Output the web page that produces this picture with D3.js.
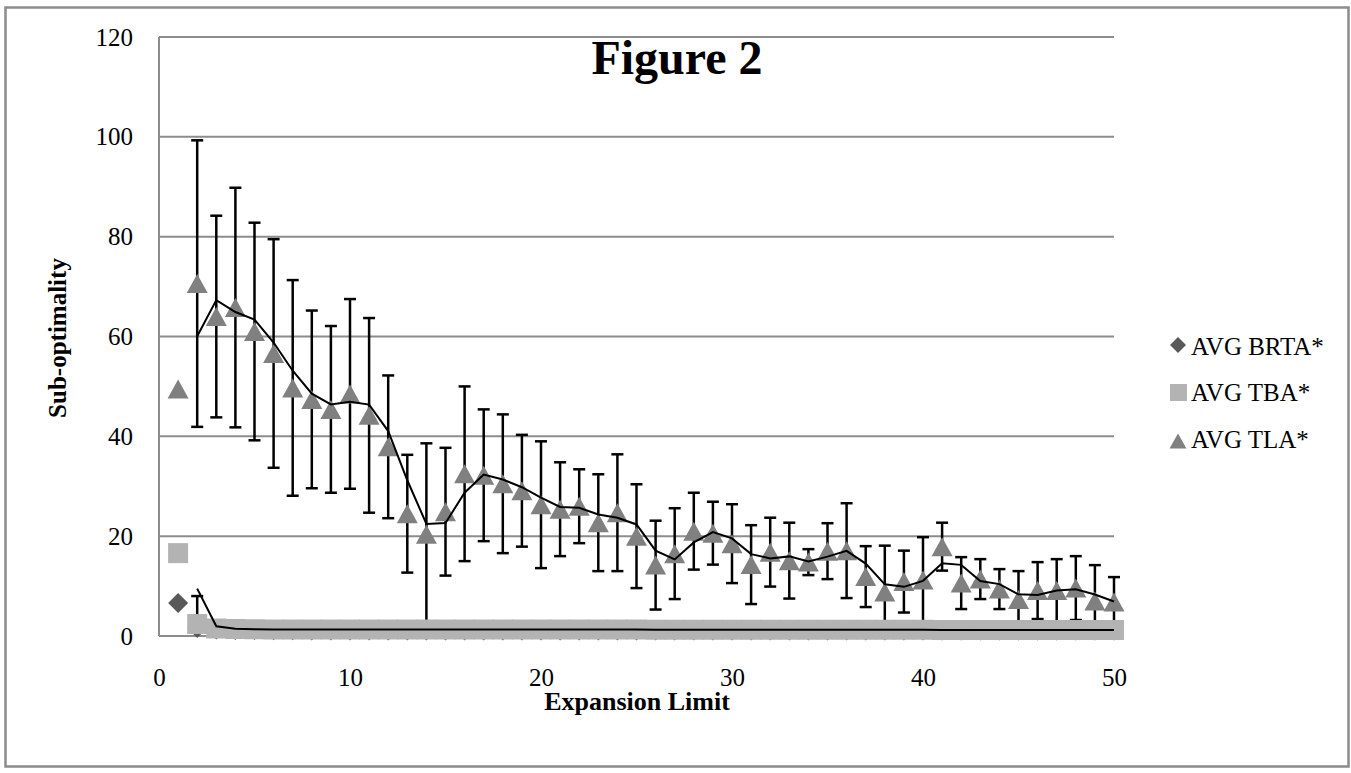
<!DOCTYPE html>
<html>
<head>
<meta charset="utf-8">
<script src="https://cdn.jsdelivr.net/npm/d3@7"></script>
<style>
  body { margin: 0; background: #fff; }
  svg text { font-family: "Liberation Serif", "DejaVu Serif", serif; fill: #000; }
</style>
</head>
<body>
<svg id="chart" width="1351" height="773"></svg>
<script>
// expansion limits 1..50
var limits = d3.range(1, 51);

var brta = [6.6, 1.6, 1.3, 1.2, 1.2, 1.15, 1.15, 1.1, 1.1, 1.1,
  1.1, 1.1, 1.1, 1.1, 1.1, 1.1, 1.1, 1.1, 1.1, 1.1,
  1.1, 1.1, 1.1, 1.1, 1.1, 1.1, 1.1, 1.1, 1.1, 1.1,
  1.1, 1.1, 1.1, 1.1, 1.1, 1.1, 1.1, 1.1, 1.1, 1.1,
  1.1, 1.1, 1.1, 1.1, 1.1, 1.1, 1.1, 1.1, 1.1, 1.1];

var tba = [16.6, 2.4, 1.5, 1.4, 1.35, 1.3, 1.3, 1.3, 1.3, 1.3,
  1.3, 1.3, 1.3, 1.3, 1.3, 1.3, 1.3, 1.3, 1.3, 1.3,
  1.3, 1.3, 1.3, 1.3, 1.3, 1.25, 1.25, 1.25, 1.25, 1.25,
  1.25, 1.25, 1.25, 1.25, 1.25, 1.25, 1.25, 1.25, 1.25, 1.25,
  1.2, 1.2, 1.2, 1.2, 1.2, 1.2, 1.2, 1.2, 1.2, 1.2];
var tbaErr = [0, 5.6, 0.4, 0.3, 0.3, 0.2, 0.2, 0.2, 0.2, 0.2,
  0.2, 0.2, 0.2, 0.2, 0.2, 0.2, 0.2, 0.2, 0.2, 0.2,
  0.2, 0.2, 0.2, 0.2, 0.2, 0.2, 0.2, 0.2, 0.2, 0.2,
  0.2, 0.2, 0.2, 0.2, 0.2, 0.2, 0.2, 0.2, 0.2, 0.2,
  0.2, 0.2, 0.2, 0.2, 0.2, 0.2, 0.2, 0.2, 0.2, 0.2];

var tla = [49.5, 70.6, 64.0, 65.8, 61.0, 56.6, 49.7, 47.4, 45.4, 48.5,
  44.2, 37.9, 24.5, 20.4, 24.9, 32.5, 32.2, 30.5, 29.1, 26.3,
  25.4, 26.0, 22.7, 24.7, 20.0, 14.2, 16.5, 21.0, 20.6, 18.5,
  14.3, 16.8, 15.1, 14.8, 17.0, 17.1, 11.9, 8.8, 10.9, 11.2,
  17.9, 10.6, 11.4, 9.4, 7.3, 9.1, 9.1, 9.6, 7.0, 6.8];
var tlaErr = [0, 28.7, 20.2, 24.0, 21.8, 22.9, 21.6, 17.8, 16.7, 19.0,
  19.5, 14.3, 11.8, 18.2, 12.8, 17.5, 13.2, 13.9, 11.2, 12.7,
  9.4, 7.4, 9.7, 11.7, 10.4, 8.9, 9.1, 7.7, 6.3, 7.9,
  7.9, 6.9, 7.6, 2.6, 5.6, 9.5, 6.1, 9.3, 6.2, 8.6,
  4.8, 5.2, 4.0, 4.0, 5.7, 5.7, 6.3, 6.4, 7.2, 5.0];

var yTicks = [0, 20, 40, 60, 80, 100, 120];
var xTicks = [0, 10, 20, 30, 40, 50];
var seriesNames = ["AVG BRTA*", "AVG TBA*", "AVG TLA*"];

var svg = d3.select("#chart");
var plotLeft = 159, plotRight = 1114, plotTop = 37, plotBottom = 636;

var x = d3.scaleLinear().domain([0, 50]).range([plotLeft, plotRight]);
var y = d3.scaleLinear().domain([0, 120]).range([plotBottom, plotTop]);

// outer chart border
svg.append("rect")
  .attr("x", 5.5).attr("y", 7.5).attr("width", 1343).attr("height", 759)
  .attr("fill", "#fff").attr("stroke", "#8c8c8c").attr("stroke-width", 2.5);

// gridlines
svg.append("g").selectAll("line").data(yTicks).enter().append("line")
  .attr("x1", plotLeft).attr("x2", plotRight)
  .attr("y1", function(d) { return y(d); }).attr("y2", function(d) { return y(d); })
  .attr("stroke", "#8c8c8c").attr("stroke-width", 2);
svg.append("line")
  .attr("x1", plotLeft).attr("x2", plotLeft).attr("y1", plotTop).attr("y2", plotBottom)
  .attr("stroke", "#8c8c8c").attr("stroke-width", 2);

// axes (labels only)
var yAxis = svg.append("g").attr("transform", "translate(" + plotLeft + ",0)")
  .call(d3.axisLeft(y).tickValues(yTicks).tickSize(0).tickPadding(26));
var xAxis = svg.append("g").attr("transform", "translate(0," + plotBottom + ")")
  .call(d3.axisBottom(x).tickValues(xTicks).tickSize(0).tickPadding(32));
[yAxis, xAxis].forEach(function(a) {
  a.select(".domain").remove();
  a.selectAll("text").style("font-size", "25px")
    .style("font-family", '"Liberation Serif", "DejaVu Serif", serif');
});

// error bars, clipped to the plot area
svg.append("clipPath").attr("id", "plotclip").append("rect")
  .attr("x", plotLeft - 20).attr("y", plotTop).attr("width", plotRight - plotLeft + 40).attr("height", plotBottom - plotTop);

function errorBars(vals, errs) {
  var g = svg.append("g").attr("clip-path", "url(#plotclip)")
    .attr("stroke", "#000").attr("stroke-width", 2.5);
  limits.forEach(function(l, i) {
    if (!errs[i]) return;
    var cx = x(l), y1 = y(vals[i] + errs[i]), y2 = y(vals[i] - errs[i]);
    g.append("line").attr("x1", cx).attr("x2", cx).attr("y1", y1).attr("y2", y2);
    g.append("line").attr("x1", cx - 6).attr("x2", cx + 6).attr("y1", y1).attr("y2", y1);
    g.append("line").attr("x1", cx - 6).attr("x2", cx + 6).attr("y1", y2).attr("y2", y2);
  });
}
errorBars(tla, tlaErr);
errorBars(tba, tbaErr);

function diamond(cx, cy, r) {
  return "M" + cx + "," + (cy - r) + "L" + (cx + r) + "," + cy + "L" + cx + "," + (cy + r) + "L" + (cx - r) + "," + cy + "Z";
}
function triangle(cx, cy, w, h) {
  return "M" + cx + "," + (cy - h / 2) + "L" + (cx + w / 2) + "," + (cy + h / 2) + "L" + (cx - w / 2) + "," + (cy + h / 2) + "Z";
}

// markers
svg.append("g").selectAll("path").data(brta).enter().append("path")
  .attr("d", function(d, i) { return diamond(x(limits[i]), y(d), 10); })
  .attr("fill", "#595959");
svg.append("g").selectAll("rect").data(tba).enter().append("rect")
  .attr("x", function(d, i) { return x(limits[i]) - 10; })
  .attr("y", function(d) { return y(d) - 10; })
  .attr("width", 20).attr("height", 20)
  .attr("fill", "#b3b3b3");
svg.append("g").selectAll("path").data(tla).enter().append("path")
  .attr("d", function(d, i) { return triangle(x(limits[i]), y(d), 21, 19); })
  .attr("fill", "#808080");

// 2 period moving average trendlines
function movingAvg(vals) {
  var out = [];
  for (var i = 1; i < vals.length; i++)
    out.push([limits[i], (vals[i - 1] + vals[i]) / 2]);
  return out;
}
var line = d3.line().x(function(d) { return x(d[0]); }).y(function(d) { return y(d[1]); });
[tba, tla].forEach(function(s) {
  svg.append("path").datum(movingAvg(s)).attr("d", line)
    .attr("fill", "none").attr("stroke", "#000").attr("stroke-width", 2);
});

// titles
svg.append("text").attr("x", 677).attr("y", 74).attr("text-anchor", "middle")
  .style("font-size", "48px").style("font-weight", "bold").text("Figure 2");
svg.append("text").attr("x", 637).attr("y", 710).attr("text-anchor", "middle")
  .style("font-size", "26px").style("font-weight", "bold").text("Expansion Limit");
svg.append("text").attr("transform", "translate(66,338) rotate(-90)").attr("text-anchor", "middle")
  .style("font-size", "25px").style("font-weight", "bold").text("Sub-optimality");

// legend
var legY = [355, 401, 448];
var leg = svg.append("g");
leg.append("path").attr("d", diamond(1178, 345, 8)).attr("fill", "#595959");
leg.append("rect").attr("x", 1170).attr("y", 384).attr("width", 17).attr("height", 17).attr("fill", "#b3b3b3");
leg.append("path").attr("d", triangle(1178, 441, 17, 15)).attr("fill", "#808080");
leg.selectAll("text").data(seriesNames).enter().append("text")
  .attr("x", 1191).attr("y", function(d, i) { return legY[i]; })
  .style("font-size", "25px").text(function(d) { return d; });
</script>
</body>
</html>
